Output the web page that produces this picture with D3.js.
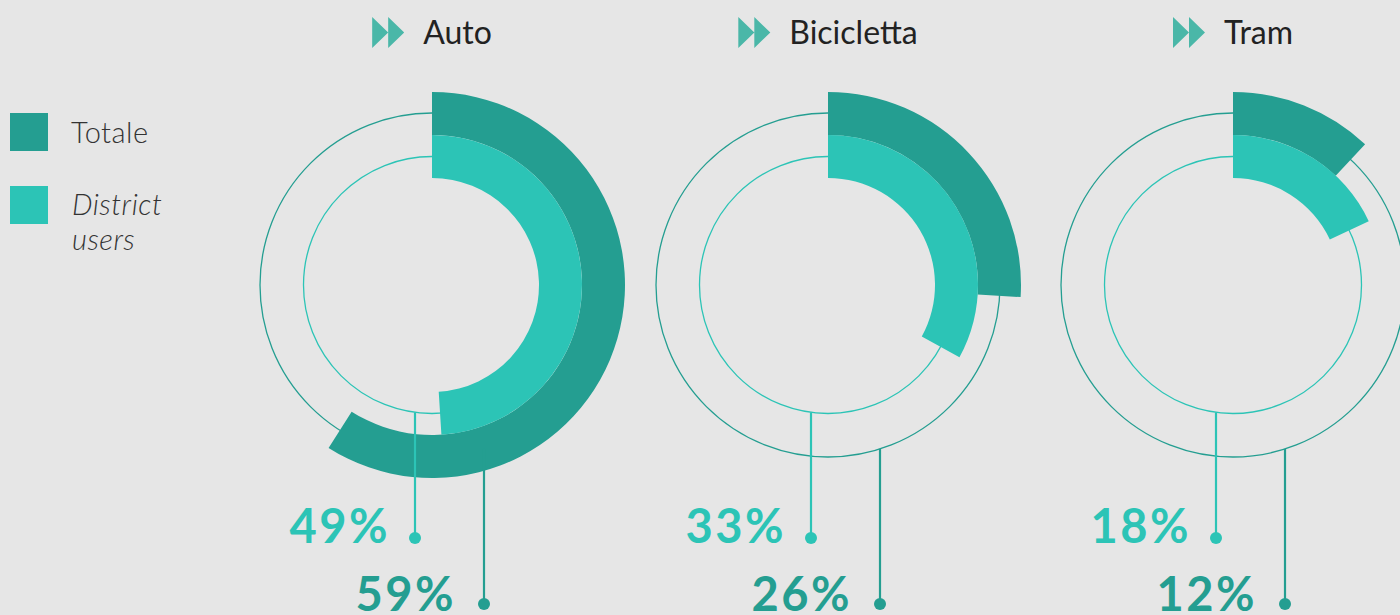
<!DOCTYPE html>
<html>
<head>
<meta charset="utf-8">
<script src="https://cdn.jsdelivr.net/npm/d3@7"></script>
<style>
  html, body { margin: 0; padding: 0; background: #e6e6e6; }
  svg { display: block; }
</style>
</head>
<body>
<svg id="chart" width="1400" height="615"></svg>
<script>
// Modal share: overall vs. district users
const categories = ["Auto", "Bicicletta", "Tram"];
const totale = [59, 26, 12];
const district = [49, 33, 18];
const seriesNames = ["Totale", "District users"];

const W = 1400, H = 615;
const DARK = "#249e91";
const LIGHT = "#2cc4b6";
const ICON = "#4ab7a8";
const BG = "#e6e6e6";

const svg = d3.select("#chart");
svg.append("rect").attr("width", W).attr("height", H).attr("fill", BG);

// Layout
const cx = d3.scaleOrdinal().domain(categories).range([432, 828, 1233]);
const cy = 285;
const angle = d3.scaleLinear().domain([0, 100]).range([0, 2 * Math.PI]);

const ring = {
  outer: { inner: 150, outer: 193, guide: 172 },
  inner: { inner: 107, outer: 150, guide: 128.5 }
};

const arcOuter = d3.arc().innerRadius(ring.outer.inner).outerRadius(ring.outer.outer).startAngle(0);
const arcInner = d3.arc().innerRadius(ring.inner.inner).outerRadius(ring.inner.outer).startAngle(0);

const rows = categories.map((c, i) => ({ cat: c, tot: totale[i], dis: district[i] }));

const g = svg.selectAll("g.donut").data(rows).join("g")
  .attr("class", "donut")
  .attr("transform", d => `translate(${cx(d.cat)},${cy})`);

// Guide circles
g.append("circle").attr("r", ring.outer.guide)
  .attr("fill", "none").attr("stroke", DARK).attr("stroke-width", 1.3);
g.append("circle").attr("r", ring.inner.guide)
  .attr("fill", "none").attr("stroke", LIGHT).attr("stroke-width", 1.3);

// Arcs
g.append("path").attr("d", d => arcOuter.endAngle(angle(d.tot))()).attr("fill", DARK);
g.append("path").attr("d", d => arcInner.endAngle(angle(d.dis))()).attr("fill", LIGHT);

// Leader lines and value labels
const leadInnerX = -17, leadOuterX = 52;
const dotInnerY = 538, dotOuterY = 604;

g.append("line")
  .attr("x1", leadOuterX).attr("x2", leadOuterX)
  .attr("y1", Math.sqrt(ring.outer.guide ** 2 - leadOuterX ** 2))
  .attr("y2", dotOuterY - cy)
  .attr("stroke", DARK).attr("stroke-width", 2.2);
g.append("circle").attr("cx", leadOuterX).attr("cy", dotOuterY - cy).attr("r", 6).attr("fill", DARK);

g.append("line")
  .attr("x1", leadInnerX).attr("x2", leadInnerX)
  .attr("y1", Math.sqrt(ring.inner.guide ** 2 - leadInnerX ** 2))
  .attr("y2", dotInnerY - cy)
  .attr("stroke", LIGHT).attr("stroke-width", 2.2);
g.append("circle").attr("cx", leadInnerX).attr("cy", dotInnerY - cy).attr("r", 6).attr("fill", LIGHT);

const pctStyle = sel => sel
  .attr("text-anchor", "end")
  .attr("font-family", "Lato, sans-serif")
  .attr("font-weight", 700)
  .attr("font-size", 47)
  .attr("letter-spacing", 2.5);

g.append("text").call(pctStyle)
  .attr("x", leadInnerX - 25).attr("y", 543 - cy)
  .attr("fill", LIGHT)
  .text(d => d.dis + "%");
g.append("text").call(pctStyle)
  .attr("x", leadOuterX - 28).attr("y", 611 - cy)
  .attr("fill", DARK)
  .text(d => d.tot + "%");

// Titles with double-arrow icon, centred over each donut
const titles = svg.selectAll("g.title").data(rows).join("g").attr("class", "title");
titles.each(function (d) {
  const t = d3.select(this);
  const txt = t.append("text")
    .attr("font-family", "Lato, sans-serif")
    .attr("font-size", 32)
    .attr("fill", "#222")
    .attr("y", 43.5)
    .text(d.cat);
  const tw = txt.node().getComputedTextLength();
  const iconW = 32, gap = 19;
  const total = iconW + gap + tw;
  const x0 = cx(d.cat) - total / 2;
  txt.attr("x", x0 + iconW + gap);
  const y0 = 17, y1 = 48, ym = (y0 + y1) / 2;
  t.append("path")
    .attr("d", `M${x0},${y0}L${x0 + 16},${ym}L${x0},${y1}Z M${x0 + 16},${y0}L${x0 + 32},${ym}L${x0 + 16},${y1}Z`)
    .attr("fill", ICON);
});

// Legend
const legend = svg.append("g").attr("class", "legend");
legend.append("rect").attr("x", 10).attr("y", 113).attr("width", 38).attr("height", 38).attr("fill", DARK);
legend.append("rect").attr("x", 10).attr("y", 186).attr("width", 38).attr("height", 38).attr("fill", LIGHT);
legend.append("text")
  .attr("x", 71).attr("y", 142.5)
  .attr("font-family", "Lato, sans-serif").attr("font-size", 29).attr("font-weight", 300)
  .attr("letter-spacing", 0.5)
  .attr("fill", "#333")
  .text(seriesNames[0]);
const lt = legend.append("text")
  .attr("font-family", "Lato, sans-serif").attr("font-size", 29).attr("font-weight", 300)
  .attr("letter-spacing", 0.5)
  .attr("font-style", "italic").attr("fill", "#333");
seriesNames[1].split(" ").forEach((w, i) => {
  lt.append("tspan").attr("x", 72).attr("y", 215 + i * 35).text(w);
});
</script>
</body>
</html>
